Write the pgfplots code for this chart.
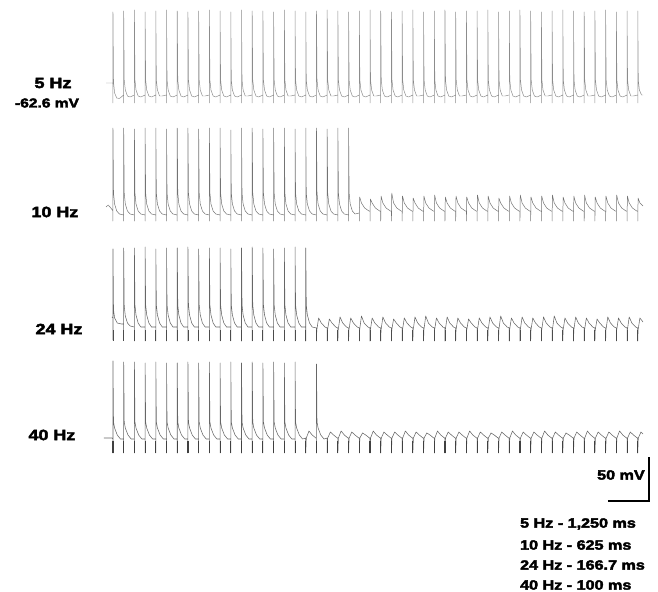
\documentclass[border=0pt]{standalone}
\usepackage{pgfplots}
\pgfplotsset{compat=1.18}
\usepackage{fontspec}
\newfontfamily\lab{Liberation Sans}[FakeStretch=1.2, FakeBold=3]
\begin{document}
\begin{tikzpicture}
\begin{axis}[scale only axis, width=658bp, height=592bp,
  xmin=-105.5, xmax=508.9, ymin=0, ymax=592, y dir=reverse,
  hide axis, clip=false, unbounded coords=jump,
  every axis plot/.append style={line join=round, mark=none}]
\path (axis cs:-105.5,0) rectangle (axis cs:508.9,592);
% ---------- 5 Hz ----------
\addplot[black!45, line width=0.5pt] coordinates {
(-6.5,83)(-0.3,83)(0,84)(0,103)(0,12)(0.5,82)(1.5,93)(3.5,98)(6,98.5)
(10,95)(10,103)(10,11)(10.5,80)(11.5,90)(13.5,96)(16,97)
(20,95)(20,103)(20,10)(20.5,80)(21.5,90)(23.5,96)(26,97)
(30,95)(30,103)(30,12)(30.5,80)(31.5,90)(33.5,96)(36,97)
(40,95)(40,103)(40,11)(40.5,80)(41.5,90)(43.5,96)(46,96)
(50,95)(50,103)(50,10)(50.5,80)(51.5,90)(53.5,96)(56,97)
(60,95)(60,103)(60,11)(60.5,80)(61.5,90)(63.5,96)(66,97)
(70,95)(70,103)(70,12)(70.5,80)(71.5,90)(73.5,96)(76,97)
(80,95)(80,103)(80,11)(80.5,80)(81.5,90)(83.5,96)(86,96)
(90,95)(90,103)(90,10)(90.5,80)(91.5,90)(93.5,96)(96,97)
(100,95)(100,103)(100,11)(100.5,80)(101.5,90)(103.5,96)(106,97)
(110,95)(110,103)(110,12)(110.5,80)(111.5,90)(113.5,96)(116,97)
(120,95)(120,103)(120,10)(120.5,80)(121.5,90)(123.5,96)(126,96)
(130,95)(130,103)(130,11)(130.5,80)(131.5,90)(133.5,96)(136,97)
(140,95)(140,103)(140,11)(140.5,80)(141.5,90)(143.5,96)(146,97)
(150,95)(150,103)(150,12)(150.5,80)(151.5,90)(153.5,96)(156,97)
(160,95)(160,103)(160,10)(160.5,80)(161.5,90)(163.5,96)(166,96)
(170,95)(170,103)(170,11)(170.5,80)(171.5,90)(173.5,96)(176,97)
(180,95)(180,103)(180,12)(180.5,80)(181.5,90)(183.5,96)(186,97)
(190,95)(190,103)(190,11)(190.5,80)(191.5,90)(193.5,96)(196,97)
(200,95)(200,103)(200,10)(200.5,80)(201.5,90)(203.5,96)(206,96)
(210,95)(210,103)(210,11)(210.5,80)(211.5,90)(213.5,96)(216,97)
(220,95)(220,103)(220,12)(220.5,80)(221.5,90)(223.5,96)(226,97)
(230,95)(230,103)(230,11)(230.5,80)(231.5,90)(233.5,96)(236,97)
(240,95)(240,103)(240,10)(240.5,80)(241.5,90)(243.5,96)(246,96)
(250,95)(250,103)(250,11)(250.5,80)(251.5,90)(253.5,96)(256,97)
(260,95)(260,103)(260,12)(260.5,80)(261.5,90)(263.5,96)(266,97)
(270,95)(270,103)(270,11)(270.5,80)(271.5,90)(273.5,96)(276,97)
(280,95)(280,103)(280,10)(280.5,80)(281.5,90)(283.5,96)(286,96)
(290,95)(290,103)(290,12)(290.5,80)(291.5,90)(293.5,96)(296,97)
(300,95)(300,103)(300,11)(300.5,80)(301.5,90)(303.5,96)(306,97)
(310,95)(310,103)(310,10)(310.5,80)(311.5,90)(313.5,96)(316,97)
(320,95)(320,103)(320,12)(320.5,80)(321.5,90)(323.5,96)(326,96)
(330,95)(330,103)(330,11)(330.5,80)(331.5,90)(333.5,96)(336,97)
(340,95)(340,103)(340,11)(340.5,80)(341.5,90)(343.5,96)(346,97)
(350,95)(350,103)(350,10)(350.5,80)(351.5,90)(353.5,96)(356,97)
(360,95)(360,103)(360,12)(360.5,80)(361.5,90)(363.5,96)(366,96)
(370,95)(370,103)(370,11)(370.5,80)(371.5,90)(373.5,96)(376,97)
(380,95)(380,103)(380,10)(380.5,80)(381.5,90)(383.5,96)(386,97)
(390,95)(390,103)(390,11)(390.5,80)(391.5,90)(393.5,96)(396,97)
(400,95)(400,103)(400,12)(400.5,80)(401.5,90)(403.5,96)(406,96)
(410,95)(410,103)(410,11)(410.5,80)(411.5,90)(413.5,96)(416,97)
(420,95)(420,103)(420,10)(420.5,80)(421.5,90)(423.5,96)(426,97)
(430,95)(430,103)(430,11)(430.5,80)(431.5,90)(433.5,96)(436,97)
(440,95)(440,103)(440,12)(440.5,80)(441.5,90)(443.5,96)(446,96)
(450,95)(450,103)(450,11)(450.5,80)(451.5,90)(453.5,96)(456,97)
(460,95)(460,103)(460,10)(460.5,80)(461.5,90)(463.5,96)(466,97)
(470,95)(470,103)(470,12)(470.5,80)(471.5,90)(473.5,96)(476,97)
(480,95)(480,103)(480,11)(480.5,80)(481.5,90)(483.5,96)(486,96)
(490,95)(490,103)(490,11)(490.5,80)(491.5,90)(493.5,95)(494.9,95)
};
% ---------- 10 Hz ----------
\addplot[black!55, line width=0.5pt] coordinates {
(-6.5,207)(-4.5,205)(-2,208)(0,211)(0,221)(0,128)(0.5,193)(1.5,204)(3.5,211)(6,214)
(10,215)(10,221)(10,128)(10.5,193)(11.5,204)(13.5,211)(16,214)
(20,215)(20,221)(20,129)(20.5,193)(21.5,204)(23.5,211)(26,214)
(30,215)(30,221)(30,128)(30.5,193)(31.5,204)(33.5,211)(36,214)
(40,215)(40,221)(40,128)(40.5,193)(41.5,204)(43.5,211)(46,214)
(50,215)(50,221)(50,129)(50.5,193)(51.5,204)(53.5,211)(56,214)
(60,215)(60,221)(60,128)(60.5,193)(61.5,204)(63.5,211)(66,214)
(70,215)(70,221)(70,128)(70.5,193)(71.5,204)(73.5,211)(76,214)
(80,215)(80,221)(80,129)(80.5,193)(81.5,204)(83.5,211)(86,214)
(90,215)(90,221)(90,128)(90.5,193)(91.5,204)(93.5,211)(96,214)
(100,215)(100,221)(100,128)(100.5,193)(101.5,204)(103.5,211)(106,214)
(110,215)(110,221)(110,130)(110.5,193)(111.5,204)(113.5,211)(116,214)
(120,215)(120,221)(120,128)(120.5,193)(121.5,204)(123.5,211)(126,214)
(130,215)(130,221)(130,128)(130.5,193)(131.5,204)(133.5,211)(136,214)
(140,215)(140,221)(140,129)(140.5,193)(141.5,204)(143.5,211)(146,214)
(150,215)(150,221)(150,128)(150.5,193)(151.5,204)(153.5,211)(156,214)
(160,215)(160,221)(160,128)(160.5,193)(161.5,204)(163.5,211)(166,214)
(170,215)(170,221)(170,129)(170.5,193)(171.5,204)(173.5,211)(176,214)
(180,215)(180,221)(180,128)(180.5,193)(181.5,204)(183.5,211)(186,214)
(190,215)(190,221)(190,128)(190.5,193)(191.5,204)(193.5,211)(196,214)
(200,215)(200,221)(200,129)(200.5,193)(201.5,204)(203.5,211)(206,214)
(210,215)(210,221)(210,128)(210.5,193)(211.5,204)(213.5,211)(216,214)
(220,215)(220,221)(220,128)(220.5,193)(221.5,204)(223.5,211)(226,214)
(230,213)(230,221)(230.3,197)(232,203)(235,208)(239,211)
(240,211)(240,221)(240.3,199)(242,203)(245,208)(249,211)
(250,211)(250,221)(250.3,196)(252,203)(255,208)(259,211)
(260,211)(260,221)(260.3,193)(262,203)(265,208)(269,211)
(270,211)(270,221)(270.3,196)(272,203)(275,208)(279,211)
(280,211)(280,221)(280.3,198)(282,203)(285,208)(289,211)
(290,211)(290,221)(290.3,196)(292,203)(295,208)(299,211)
(300,211)(300,221)(300.3,195)(302,203)(305,208)(309,211)
(310,211)(310,221)(310.3,197)(312,203)(315,208)(319,211)
(320,211)(320,221)(320.3,196)(322,203)(325,208)(329,211)
(330,211)(330,221)(330.3,197)(332,203)(335,208)(339,211)
(340,211)(340,221)(340.3,195)(342,203)(345,208)(349,211)
(350,211)(350,221)(350.3,196)(352,203)(355,208)(359,211)
(360,211)(360,221)(360.3,198)(362,203)(365,208)(369,211)
(370,211)(370,221)(370.3,196)(372,203)(375,208)(379,211)
(380,211)(380,221)(380.3,195)(382,203)(385,208)(389,211)
(390,211)(390,221)(390.3,197)(392,203)(395,208)(399,211)
(400,211)(400,221)(400.3,196)(402,203)(405,208)(409,211)
(410,211)(410,221)(410.3,195)(412,203)(415,208)(419,211)
(420,211)(420,221)(420.3,197)(422,203)(425,208)(429,211)
(430,211)(430,221)(430.3,196)(432,203)(435,208)(439,211)
(440,211)(440,221)(440.3,195)(442,203)(445,208)(449,211)
(450,211)(450,221)(450.3,197)(452,203)(455,208)(459,211)
(460,211)(460,221)(460.3,196)(462,203)(465,208)(469,211)
(470,211)(470,221)(470.3,195)(472,203)(475,208)(479,211)
(480,211)(480,221)(480.3,196)(482,203)(485,208)(489,211)
(490,211)(490,221)(490.3,198)(492,203)(494.9,206)
};
% ---------- 24 Hz ----------
\addplot[black!60, line width=0.55pt] coordinates {
(-1,317)(0,318)(0,340)(0,249)(0.5,310)(1.5,318)(4,323)(8,324)
(10,324)(10,340)(10,248)(10.5,306)(11.5,316)(13.5,323)(16,326)
(20,327)(20,341)(20,248)(20.5,305)(21.5,315)(23.5,323)(26,327)
(30,327)(30,341)(30,247)(30.5,305)(31.5,315)(33.5,323)(36,327)
(40,327)(40,341)(40,249)(40.5,305)(41.5,315)(43.5,323)(46,327)
(50,327)(50,341)(50,248)(50.5,305)(51.5,315)(53.5,323)(56,327)
(60,327)(60,341)(60,248)(60.5,305)(61.5,315)(63.5,323)(66,327)
(70,327)(70,341)(70,247)(70.5,305)(71.5,315)(73.5,323)(76,327)
(80,327)(80,341)(80,249)(80.5,305)(81.5,315)(83.5,323)(86,327)
(90,327)(90,341)(90,248)(90.5,305)(91.5,315)(93.5,323)(96,327)
(100,327)(100,341)(100,248)(100.5,305)(101.5,315)(103.5,323)(106,327)
(110,327)(110,341)(110,249)(110.5,305)(111.5,315)(113.5,323)(116,327)
(120,327)(120,341)(120,248)(120.5,305)(121.5,315)(123.5,323)(126,327)
(130,327)(130,341)(130,247)(130.5,305)(131.5,315)(133.5,323)(136,327)
(140,327)(140,341)(140,248)(140.5,305)(141.5,315)(143.5,323)(146,327)
(150,327)(150,341)(150,249)(150.5,305)(151.5,315)(153.5,323)(156,327)
(160,327)(160,341)(160,248)(160.5,305)(161.5,315)(163.5,323)(166,327)
(170,327)(170,341)(170,247)(170.5,305)(171.5,315)(173.5,323)(176,327)
(180,327)(180,341)(180,248)(180.5,305)(181.5,315)(183.5,323)(186,327)
(190,328)(190,341)(190.3,330)(192,318)(194.5,323)(198,327)
(200,328)(200,341)(200.3,330)(202,319)(204.5,323)(208,327)
(210,328)(210,341)(210.3,330)(212,317)(214.5,323)(218,327)
(220,328)(220,341)(220.3,330)(222,318)(224.5,323)(228,327)
(230,328)(230,341)(230.3,330)(232,316)(234.5,323)(238,327)
(240,328)(240,341)(240.3,330)(242,318)(244.5,323)(248,327)
(250,328)(250,341)(250.3,330)(252,317)(254.5,323)(258,327)
(260,328)(260,341)(260.3,330)(262,319)(264.5,323)(268,327)
(270,328)(270,341)(270.3,330)(272,318)(274.5,323)(278,327)
(280,328)(280,341)(280.3,330)(282,317)(284.5,323)(288,327)
(290,328)(290,341)(290.3,330)(292,316)(294.5,323)(298,327)
(300,328)(300,341)(300.3,330)(302,318)(304.5,323)(308,327)
(310,328)(310,341)(310.3,330)(312,317)(314.5,323)(318,327)
(320,328)(320,341)(320.3,330)(322,318)(324.5,323)(328,327)
(330,328)(330,341)(330.3,330)(332,319)(334.5,323)(338,327)
(340,328)(340,341)(340.3,330)(342,318)(344.5,323)(348,327)
(350,328)(350,341)(350.3,330)(352,317)(354.5,323)(358,327)
(360,328)(360,341)(360.3,330)(362,316)(364.5,323)(368,327)
(370,328)(370,341)(370.3,330)(372,318)(374.5,323)(378,327)
(380,328)(380,341)(380.3,330)(382,317)(384.5,323)(388,327)
(390,328)(390,341)(390.3,330)(392,318)(394.5,323)(398,327)
(400,328)(400,341)(400.3,330)(402,317)(404.5,323)(408,327)
(410,328)(410,341)(410.3,330)(412,316)(414.5,323)(418,327)
(420,328)(420,341)(420.3,330)(422,318)(424.5,323)(428,327)
(430,328)(430,341)(430.3,330)(432,317)(434.5,323)(438,327)
(440,328)(440,341)(440.3,330)(442,318)(444.5,323)(448,327)
(450,328)(450,341)(450.3,330)(452,319)(454.5,323)(458,327)
(460,328)(460,341)(460.3,330)(462,317)(464.5,323)(468,327)
(470,328)(470,341)(470.3,330)(472,318)(474.5,323)(478,327)
(480,328)(480,341)(480.3,330)(482,317)(484.5,323)(488,327)
(490,328)(490,341)(490.3,330)(492,318)(494.9,322)
};
\addplot[draw=none, mark=none, forget plot,
  error bars/.cd, y dir=plus, y fixed=11, error mark=none,
  error bar style={draw=black!70, line width=0.9pt}] coordinates {
(0,330)(10,330)(20,330)(30,330)(40,330)(50,330)(60,330)(70,330)(80,330)(90,330)
(100,330)(110,330)(120,330)(130,330)(140,330)(150,330)(160,330)(170,330)(180,330)(190,330)
(200,330)(210,330)(220,330)(230,330)(240,330)(250,330)(260,330)(270,330)(280,330)(290,330)
(300,330)(310,330)(320,330)(330,330)(340,330)(350,330)(360,330)(370,330)(380,330)(390,330)
(400,330)(410,330)(420,330)(430,330)(440,330)(450,330)(460,330)(470,330)(480,330)(490,330)
};
% ---------- 40 Hz ----------
\addplot[black!60, line width=0.55pt] coordinates {
(-8.4,438)(-1,438)
(0,439)(0,453)(0,361)(0.5,422)(1.5,428)(4,435)(7,439)
(10,439)(10,453)(10,362)(10.5,422)(11.5,428)(14,435)(17,439)
(20,439)(20,453)(20,362)(20.5,422)(21.5,428)(24,435)(27,439)
(30,439)(30,453)(30,363)(30.5,422)(31.5,428)(34,435)(37,439)
(40,439)(40,453)(40,362)(40.5,422)(41.5,428)(44,435)(47,439)
(50,439)(50,453)(50,363)(50.5,422)(51.5,428)(54,435)(57,439)
(60,439)(60,453)(60,363)(60.5,422)(61.5,428)(64,435)(67,439)
(70,439)(70,453)(70,362)(70.5,422)(71.5,428)(74,435)(77,439)
(80,439)(80,453)(80,363)(80.5,422)(81.5,428)(84,435)(87,439)
(90,439)(90,453)(90,362)(90.5,422)(91.5,428)(94,435)(97,439)
(100,439)(100,453)(100,363)(100.5,422)(101.5,428)(104,435)(107,439)
(110,439)(110,453)(110,362)(110.5,422)(111.5,428)(114,435)(117,439)
(120,439)(120,453)(120,363)(120.5,422)(121.5,428)(124,435)(127,439)
(130,439)(130,453)(130,362)(130.5,422)(131.5,428)(134,435)(137,439)
(140,439)(140,453)(140,363)(140.5,422)(141.5,428)(144,435)(147,439)
(150,439)(150,453)(150,362)(150.5,422)(151.5,428)(154,435)(157,439)
(160,439)(160,453)(160,363)(160.5,422)(161.5,428)(164,435)(167,439)
(170,439)(170,453)(170,362)(170.5,422)(171.5,428)(174,435)(177,439)
(180,438)(180,453)(180.5,438)(183,431)(186,435)(189.5,438)
(190,439)(190,453)(190,364)(190.5,422)(191.5,428)(194,435)(197,439)
(200,438)(200,453)(200.5,438)(203,432)(206,435)(209.5,438)
(210,438)(210,453)(210.5,438)(213,431)(216,435)(219.5,438)
(220,438)(220,453)(220.5,438)(223,432)(226,435)(229.5,438)
(230,438)(230,453)(230.5,438)(233,433)(236,435)(239.5,438)
(240,438)(240,453)(240.5,438)(243,431)(246,435)(249.5,438)
(250,438)(250,453)(250.5,438)(253,432)(256,435)(259.5,438)
(260,438)(260,453)(260.5,438)(263,432)(266,435)(269.5,438)
(270,438)(270,453)(270.5,438)(273,431)(276,435)(279.5,438)
(280,438)(280,453)(280.5,438)(283,432)(286,435)(289.5,438)
(290,438)(290,453)(290.5,438)(293,433)(296,435)(299.5,438)
(300,438)(300,453)(300.5,438)(303,431)(306,435)(309.5,438)
(310,438)(310,453)(310.5,438)(313,432)(316,435)(319.5,438)
(320,438)(320,453)(320.5,438)(323,432)(326,435)(329.5,438)
(330,438)(330,453)(330.5,438)(333,431)(336,435)(339.5,438)
(340,438)(340,453)(340.5,438)(343,432)(346,435)(349.5,438)
(350,438)(350,453)(350.5,438)(353,433)(356,435)(359.5,438)
(360,438)(360,453)(360.5,438)(363,432)(366,435)(369.5,438)
(370,438)(370,453)(370.5,438)(373,431)(376,435)(379.5,438)
(380,438)(380,453)(380.5,438)(383,432)(386,435)(389.5,438)
(390,438)(390,453)(390.5,438)(393,432)(396,435)(399.5,438)
(400,438)(400,453)(400.5,438)(403,431)(406,435)(409.5,438)
(410,438)(410,453)(410.5,438)(413,432)(416,435)(419.5,438)
(420,438)(420,453)(420.5,438)(423,433)(426,435)(429.5,438)
(430,438)(430,453)(430.5,438)(433,432)(436,435)(439.5,438)
(440,438)(440,453)(440.5,438)(443,431)(446,435)(449.5,438)
(450,438)(450,453)(450.5,438)(453,432)(456,435)(459.5,438)
(460,438)(460,453)(460.5,438)(463,432)(466,435)(469.5,438)
(470,438)(470,453)(470.5,438)(473,431)(476,435)(479.5,438)
(480,438)(480,453)(480.5,438)(483,432)(486,435)(489.5,438)
(490,438)(490,453)(490.5,438)(493,432)(494.9,434)
};
\addplot[draw=none, mark=none, forget plot,
  error bars/.cd, y dir=plus, y fixed=12, error mark=none,
  error bar style={draw=black!75, line width=1.1pt}] coordinates {
(0,441)(10,441)(20,441)(30,441)(40,441)(50,441)(60,441)(70,441)(80,441)(90,441)
(100,441)(110,441)(120,441)(130,441)(140,441)(150,441)(160,441)(170,441)(180,441)(190,441)
(200,441)(210,441)(220,441)(230,441)(240,441)(250,441)(260,441)(270,441)(280,441)(290,441)
(300,441)(310,441)(320,441)(330,441)(340,441)(350,441)(360,441)(370,441)(380,441)(390,441)
(400,441)(410,441)(420,441)(430,441)(440,441)(450,441)(460,441)(470,441)(480,441)(490,441)
};
% ---------- scale bar ----------
\draw[black, line width=2.5pt, line join=miter] (axis cs:462.2,501) -- (axis cs:500.5,501) -- (axis cs:500.5,457);
% ---------- labels ----------
\node[font=\lab\bfseries\fontsize{15}{15}\selectfont] at (axis cs:-56.0,83) {5 Hz};
\node[font=\lab\bfseries\fontsize{13}{13}\selectfont] at (axis cs:-61.6,103) {-62.6 mV};
\node[font=\lab\bfseries\fontsize{15}{15}\selectfont] at (axis cs:-54.2,212) {10 Hz};
\node[font=\lab\bfseries\fontsize{15}{15}\selectfont] at (axis cs:-50.4,329) {24 Hz};
\node[font=\lab\bfseries\fontsize{15}{15}\selectfont] at (axis cs:-57.0,435) {40 Hz};
\node[font=\lab\bfseries\fontsize{13.5}{13.5}\selectfont, anchor=east, inner sep=0pt] at (axis cs:496.7,475) {50 mV};
\node[font=\lab\bfseries\fontsize{13.5}{13.5}\selectfont, anchor=west, inner sep=0pt] at (axis cs:380,524) {5 Hz - 1,250 ms};
\node[font=\lab\bfseries\fontsize{13.5}{13.5}\selectfont, anchor=west, inner sep=0pt] at (axis cs:380,545) {10 Hz - 625 ms};
\node[font=\lab\bfseries\fontsize{13.5}{13.5}\selectfont, anchor=west, inner sep=0pt] at (axis cs:380,565) {24 Hz - 166.7 ms};
\node[font=\lab\bfseries\fontsize{13.5}{13.5}\selectfont, anchor=west, inner sep=0pt] at (axis cs:380,585) {40 Hz - 100 ms};
\end{axis}
\end{tikzpicture}
\end{document}
